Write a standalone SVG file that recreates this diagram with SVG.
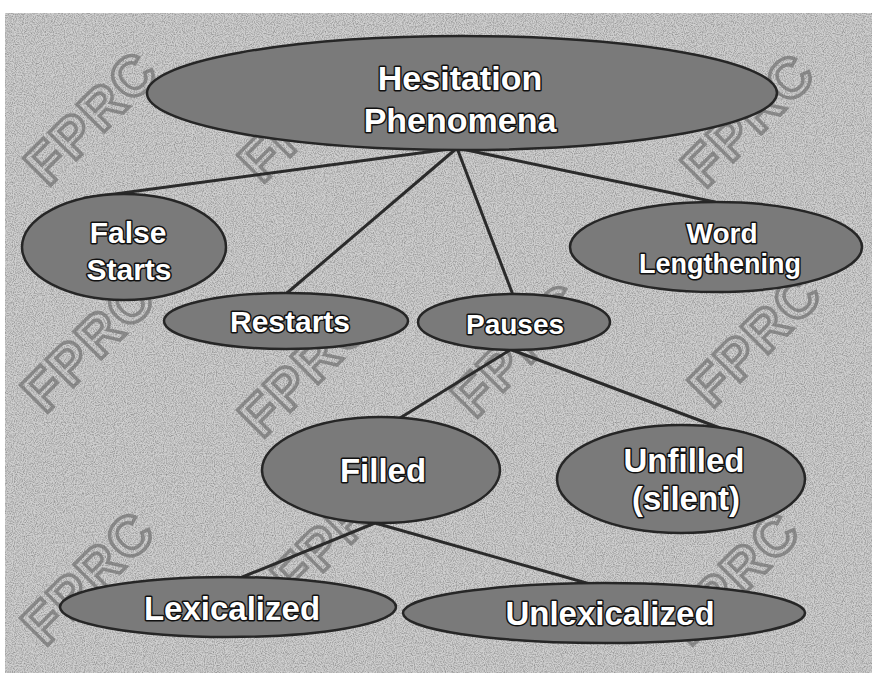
<svg xmlns="http://www.w3.org/2000/svg" width="872" height="682" viewBox="0 0 872 682">
  <defs>
    <filter id="grain" x="0" y="0" width="100%" height="100%">
      <feTurbulence type="fractalNoise" baseFrequency="0.9" numOctaves="2" seed="3" result="n"/>
      <feColorMatrix type="matrix" values="0 0 0 0 0  0 0 0 0 0  0 0 0 0 0  1.2 0 0 0 -0.45"/>
    </filter>
    <style>
      .wm { font-family: "Liberation Sans", Arial, sans-serif; font-weight: bold; font-size: 56px; fill: none; stroke: #707070; stroke-width: 3.5; opacity: 0.7; letter-spacing: 2px; }
      .edge { stroke: #2b2b2b; stroke-width: 3; fill: none; stroke-linecap: round; }
      .node ellipse { fill: #7a7a7a; stroke: #262626; stroke-width: 2.5; }
      .lbl { font-family: "Liberation Sans", Arial, sans-serif; font-weight: bold; fill: #ffffff; stroke: #111111; stroke-width: 3; paint-order: stroke; stroke-linejoin: round; text-anchor: middle; }
    </style>
  </defs>

  <rect x="0" y="0" width="872" height="682" fill="#ffffff"/>
  <rect x="5" y="13" width="867" height="660" fill="#cfcfcf"/>
  <rect x="5" y="13" width="867" height="660" filter="url(#grain)" opacity="0.5"/>

  <g id="watermarks">
    <text class="wm" transform="translate(48,188) rotate(-45)">FPRC</text>
    <text class="wm" transform="translate(262,185) rotate(-45)">FPRC</text>
    <text class="wm" transform="translate(705,190) rotate(-45)">FPRC</text>
    <text class="wm" transform="translate(45,415) rotate(-45)">FPRC</text>
    <text class="wm" transform="translate(262,440) rotate(-45)">FPRC</text>
    <text class="wm" transform="translate(475,420) rotate(-45)">FPRC</text>
    <text class="wm" transform="translate(712,410) rotate(-45)">FPRC</text>
    <text class="wm" transform="translate(45,648) rotate(-45)">FPRC</text>
    <text class="wm" transform="translate(295,600) rotate(-45)">FPRC</text>
    <text class="wm" transform="translate(690,648) rotate(-45)">FPRC</text>
  </g>

  <g id="connectors">
    <line class="edge" x1="457" y1="148" x2="85" y2="198"/>
    <line class="edge" x1="457" y1="148" x2="287" y2="293"/>
    <line class="edge" x1="457" y1="148" x2="513" y2="295"/>
    <line class="edge" x1="457" y1="148" x2="715" y2="202"/>
    <line class="edge" x1="510" y1="350" x2="400" y2="418"/>
    <line class="edge" x1="512" y1="350" x2="720" y2="428"/>
    <line class="edge" x1="375" y1="523" x2="240" y2="578"/>
    <line class="edge" x1="375" y1="523" x2="590" y2="584"/>
  </g>

  <g id="hesitation" class="node">
    <ellipse cx="462" cy="93" rx="315" ry="57"/>
    <text class="lbl" x="460" y="90" font-size="34">Hesitation</text>
    <text class="lbl" x="460" y="132" font-size="34">Phenomena</text>
  </g>
  <g id="false-starts" class="node">
    <ellipse cx="124" cy="247" rx="102" ry="53"/>
    <text class="lbl" x="128" y="243" font-size="30">False</text>
    <text class="lbl" x="129" y="280" font-size="30">Starts</text>
  </g>
  <g id="restarts" class="node">
    <ellipse cx="286" cy="321" rx="122" ry="28"/>
    <text class="lbl" x="290" y="332" font-size="30">Restarts</text>
  </g>
  <g id="pauses" class="node">
    <ellipse cx="514" cy="322" rx="96" ry="28"/>
    <text class="lbl" x="515" y="334" font-size="28">Pauses</text>
  </g>
  <g id="word-lengthening" class="node">
    <ellipse cx="716" cy="247" rx="146" ry="45"/>
    <text class="lbl" x="722" y="243" font-size="28">Word</text>
    <text class="lbl" x="720" y="273" font-size="27">Lengthening</text>
  </g>
  <g id="filled" class="node">
    <ellipse cx="381" cy="470" rx="119" ry="53"/>
    <text class="lbl" x="383" y="482" font-size="33">Filled</text>
  </g>
  <g id="unfilled" class="node">
    <ellipse cx="681" cy="479" rx="124" ry="54"/>
    <text class="lbl" x="684" y="472" font-size="33">Unfilled</text>
    <text class="lbl" x="686" y="510" font-size="33">(silent)</text>
  </g>
  <g id="lexicalized" class="node">
    <ellipse cx="228" cy="607" rx="168" ry="30"/>
    <text class="lbl" x="232" y="620" font-size="33">Lexicalized</text>
  </g>
  <g id="unlexicalized" class="node">
    <ellipse cx="604" cy="613" rx="201" ry="30"/>
    <text class="lbl" x="610" y="625" font-size="33">Unlexicalized</text>
  </g>
</svg>
